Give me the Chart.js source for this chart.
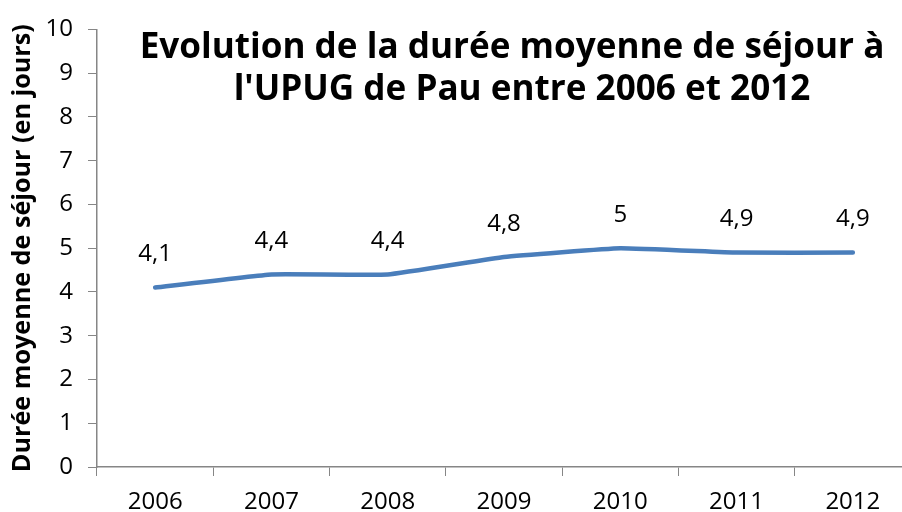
<!DOCTYPE html>
<html>
<head>
<meta charset="utf-8">
<script src="https://cdn.jsdelivr.net/npm/chart.js@4/dist/chart.umd.min.js"></script>
<style>
  html, body { margin: 0; padding: 0; background: #fff; overflow: hidden; }
  #wrap { width: 911px; height: 512px; }
</style>
</head>
<body>
<div id="wrap"><canvas id="dmsChart" width="911" height="512"></canvas></div>
<script>
const years = ['2006', '2007', '2008', '2009', '2010', '2011', '2012'];
const dureeMoyenne = [4.1, 4.4, 4.4, 4.8, 5, 4.9, 4.9];
const titleLines = ['Evolution de la durée moyenne de séjour à', "l'UPUG de Pau entre 2006 et 2012"];
const yTitle = 'Durée moyenne de séjour (en jours)';

const FONT = "'Open Sans', sans-serif";
const ctx = document.getElementById('dmsChart').getContext('2d');

// size a font so a text gets the width it has in the picture
function fitSize(text, weight, width) {
    ctx.font = weight + ' 100px ' + FONT;
    return 100 * width / ctx.measureText(text).width;
}
const tickSize = fitSize('2006', 'normal', 55);
const titleSize = fitSize(titleLines[0], 'bold', 745);
const yTitleSize = fitSize(yTitle, 'bold', 448);

const frLabel = v => String(v).replace('.', ',');

// title drawn inside the plot area, plus value labels above the points
const overlay = {
    id: 'overlay',
    afterDatasetsDraw(chart) {
        const c = chart.ctx;
        c.save();
        c.fillStyle = '#000';
        c.textAlign = 'center';
        c.textBaseline = 'alphabetic';
        c.font = 'bold ' + titleSize + 'px ' + FONT;
        c.fillText(titleLines[0], 512, 58);
        c.fillText(titleLines[1], 522, 100);

        c.font = tickSize + 'px ' + FONT;
        c.textBaseline = 'middle';
        chart.getDatasetMeta(0).data.forEach((pt, i) => {
            c.fillText(frLabel(dureeMoyenne[i]), pt.x, pt.y - 33);
        });
        c.restore();
    }
};

new Chart(ctx, {
    type: 'line',
    data: {
        labels: years,
        datasets: [{
            data: dureeMoyenne,
            borderColor: '#4a7ebb',
            borderWidth: 4.5,
            pointRadius: 0,
            tension: 0.1,
            borderCapStyle: 'round',
            borderJoinStyle: 'round',
            fill: false
        }]
    },
    options: {
        responsive: false,
        animation: false,
        layout: { padding: { top: 25, left: 0, right: 0, bottom: 0 } },
        plugins: {
            legend: { display: false },
            tooltip: { enabled: false }
        },
        scales: {
            x: {
                offset: true,
                grid: { display: true, drawOnChartArea: false, color: '#868686', tickLength: 9, offset: true },
                border: { color: '#868686', width: 1.5 },
                ticks: { color: '#000', font: { family: FONT, size: tickSize }, padding: 12, maxRotation: 0 },
                afterFit(scale) { scale.height = 45; }
            },
            y: {
                min: 0,
                max: 10,
                ticks: { stepSize: 1, color: '#000', font: { family: FONT, size: tickSize }, padding: 15 },
                grid: { display: true, drawOnChartArea: false, color: '#868686', tickLength: 9 },
                border: { color: '#868686', width: 1.5 },
                title: {
                    display: true,
                    text: yTitle,
                    color: '#000',
                    font: { family: FONT, size: yTitleSize, weight: 'bold' },
                    padding: { top: 8, bottom: 0 }
                },
                afterFit(scale) { scale.width = 97; }
            }
        }
    },
    plugins: [overlay]
});
</script>
</body>
</html>
